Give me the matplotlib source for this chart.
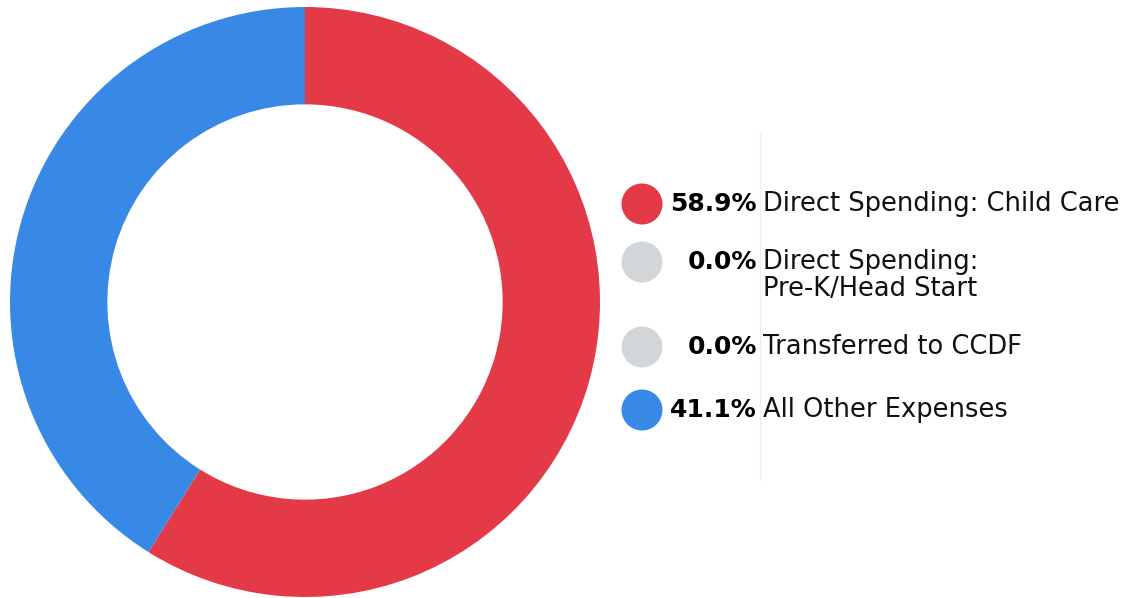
import matplotlib.pyplot as plt
from matplotlib.patches import Circle

# Data
labels = ['Direct Spending: Child Care', 'Direct Spending:\nPre-K/Head Start',
          'Transferred to CCDF', 'All Other Expenses']
shares = [58.9, 0.0, 0.0, 41.1]
colors = ['#E43A47', '#D3D6D9', '#D3D6D9', '#3889E6']

W, H = 1143, 598
fig = plt.figure(figsize=(W / 100, H / 100), dpi=100)

# Donut
cx, cy, r = 305, 302, 295
ax = fig.add_axes([(cx - r) / W, (H - cy - r) / H, 2 * r / W, 2 * r / H])
ax.pie(shares, colors=colors, startangle=90, counterclock=False, radius=1,
       wedgeprops=dict(width=0.33, linewidth=0))
ax.set_xlim(-1, 1)
ax.set_ylim(-1, 1)
ax.set_aspect('equal')
ax.axis('off')

# Legend drawn in pixel space
lax = fig.add_axes([0, 0, 1, 1])
lax.set_xlim(0, W)
lax.set_ylim(H, 0)
lax.axis('off')

font = 'DejaVu Sans'
row_y = [204, 262, 347, 410]
for y, lab, val, col in zip(row_y, labels, shares, colors):
    lax.add_patch(Circle((642, y), 20.5, color=col, lw=0))
    lax.text(757, y, f'{val:.1f}%', ha='right', va='center', fontsize=18,
             fontweight='bold', family=font, color='black')
    parts = lab.split('\n')
    for k, part in enumerate(parts):
        lax.text(763, y + 27 * k, part, ha='left', va='center', fontsize=18.5,
                 family=font, color='#111111')

# faint divider line
lax.plot([760, 760], [133, 480], color='#EEEEEE', lw=1)

fig.savefig('out.png', dpi=100)
